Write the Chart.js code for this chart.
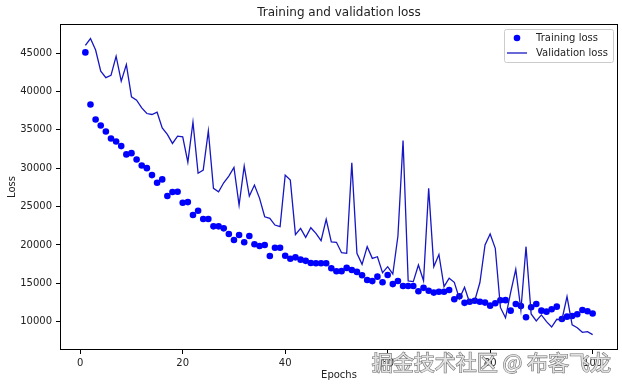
<!DOCTYPE html>
<html>
<head>
<meta charset="utf-8">
<script src="https://cdn.jsdelivr.net/npm/chart.js@4.4.1/dist/chart.umd.min.js"></script>
<style>
  html, body { margin: 0; padding: 0; background: #fff; }
</style>
</head>
<body>
<canvas id="loss" width="622" height="388"></canvas>
<script>
// values, epochs 1..100
const trainingLoss = [
  45100, 38300, 36350, 35570, 34790, 33880, 33490, 32880, 31800, 31960,
  31140, 30360, 30010, 29100, 28100, 28540, 26370, 26890, 26930, 25490,
  25580, 23890, 24450, 23370, 23370, 22420, 22420, 22160, 21420, 20640,
  21290, 20340, 21160, 20080, 19860, 19990, 18550, 19630, 19630, 18590,
  18200, 18380, 18080, 17920, 17650, 17600, 17600, 17600, 16960, 16560,
  16580, 17000, 16730, 16480, 16050, 15430, 15280, 15860, 15130, 16080,
  14890, 15300, 14650, 14650, 14650, 13950, 14400, 14020, 13780, 13900,
  13900, 14130, 12920, 13300, 12450, 12600, 12730, 12600, 12480, 12080,
  12390, 12780, 12800, 11430, 12300, 12040, 10570, 11870, 12300, 11430,
  11300, 11610, 11950, 10350, 10650, 10740, 10960, 11520, 11350, 11050
];
const validationLoss = [
  46000, 46900, 45400, 42640, 41800, 42100, 44600, 41350, 43500, 39300,
  38870, 37860, 37130, 37000, 37300, 35260, 34400, 33230, 34180, 34090,
  30790, 36000, 29350, 29750, 34870, 27370, 26930, 28100, 28970, 30100,
  25190, 30270, 26370, 27800, 26070, 23670, 23460, 22590, 22370, 29100,
  28450, 21350, 22160, 20990, 22240, 21510, 20550, 23330, 20380, 20340,
  18980, 18900, 30700, 18900, 17470, 19770, 18250, 18460, 16380, 17160,
  16210, 21160, 33600, 15300, 15210, 17380, 15340, 27370, 17160, 18750,
  14560, 15650, 15130, 13000, 14480, 12450, 12750, 15100, 19990, 21420,
  19560, 11850, 10500, 13800, 16820, 11520, 19770, 11000, 10100, 10870,
  10000, 9300, 10300, 10220, 13260, 9570, 9200, 8600, 8700, 8300
];
const epochs = trainingLoss.map((_, i) => i + 1);
const xTicks = [0, 20, 40, 60, 80, 100];
const yTicks = [10000, 15000, 20000, 25000, 30000, 35000, 40000, 45000];
const chartTitle = 'Training and validation loss';
const seriesNames = ['Training loss', 'Validation loss'];
const watermark = '掘金技术社区 @ 布客飞龙';

const DOT = '#0000ff';
const LINE = '#1616c4';
const INK = '#222';

Chart.defaults.font.family = '"DejaVu Sans", sans-serif';
Chart.defaults.font.size = 10;
Chart.defaults.color = INK;

// matplotlib-ish frame, title, legend box and the site watermark
const decor = {
  id: 'decor',
  afterDraw(chart) {
    const { ctx, chartArea: a } = chart;
    ctx.save();
    ctx.strokeStyle = '#000';
    ctx.lineWidth = 1;
    ctx.strokeRect(a.left + 0.5, a.top + 0.5, a.width - 1, a.height - 1);

    ctx.fillStyle = INK;
    ctx.font = '12px "DejaVu Sans"';
    ctx.textAlign = 'center';
    ctx.textBaseline = 'middle';
    ctx.fillText(chartTitle, (a.left + a.right) / 2, 13);

    // legend
    const w = 109, h = 33;
    const x1 = a.right - 5 - w, y1 = a.top + 5;
    ctx.beginPath();
    ctx.roundRect(x1 + 0.5, y1 + 0.5, w, h, 2);
    ctx.fillStyle = 'rgba(255,255,255,0.8)';
    ctx.fill();
    ctx.strokeStyle = '#cccccc';
    ctx.stroke();

    ctx.fillStyle = DOT;
    ctx.beginPath();
    ctx.arc(x1 + 13, y1 + 9, 3.3, 0, Math.PI * 2);
    ctx.fill();
    ctx.strokeStyle = LINE;
    ctx.lineWidth = 1.3;
    ctx.beginPath();
    ctx.moveTo(x1 + 3, y1 + 24);
    ctx.lineTo(x1 + 23, y1 + 24);
    ctx.stroke();

    ctx.fillStyle = INK;
    ctx.font = '10px "DejaVu Sans"';
    ctx.textAlign = 'left';
    ctx.fillText(seriesNames[0], x1 + 32, y1 + 9);
    ctx.fillText(seriesNames[1], x1 + 32, y1 + 24);

    // watermark
    ctx.font = '21px "Noto Sans CJK SC"';
    ctx.textAlign = 'right';
    ctx.lineWidth = 1.2;
    ctx.strokeStyle = '#707070';
    ctx.fillStyle = '#e2e2e2';
    ctx.strokeText(watermark, 611, 362);
    ctx.fillText(watermark, 611, 362);
    ctx.restore();
  }
};

new Chart(document.getElementById('loss'), {
  type: 'line',
  data: {
    datasets: [
      {
        label: seriesNames[0],
        data: epochs.map((e, i) => ({ x: e, y: trainingLoss[i] })),
        showLine: false,
        pointRadius: 3.3,
        pointBorderWidth: 0,
        backgroundColor: DOT,
        borderColor: DOT,
        order: 2
      },
      {
        label: seriesNames[1],
        data: epochs.map((e, i) => ({ x: e, y: validationLoss[i] })),
        borderColor: LINE,
        borderWidth: 1.3,
        pointRadius: 0,
        tension: 0,
        fill: false,
        order: 1
      }
    ]
  },
  options: {
    responsive: false,
    animation: false,
    devicePixelRatio: 1,
    layout: { padding: { top: 24, right: 4, left: 0, bottom: 0 } },
    plugins: {
      legend: { display: false },
      title: { display: false },
      tooltip: { enabled: false }
    },
    scales: {
      x: {
        type: 'linear',
        min: -3.95,
        max: 104.95,
        afterBuildTicks: s => { s.ticks = xTicks.map(v => ({ value: v })); },
        afterFit: s => { s.height = 38; },
        ticks: { padding: 3, maxRotation: 0, autoSkip: false, callback: v => String(v) },
        grid: { display: true, drawOnChartArea: false, drawTicks: true, tickLength: 4, color: '#000' },
        border: { display: false },
        title: { display: true, text: 'Epochs', padding: { top: 0, bottom: 7 } }
      },
      y: {
        min: 6300,
        max: 48800,
        afterBuildTicks: s => { s.ticks = yTicks.map(v => ({ value: v })); },
        afterFit: s => { s.width = 60; },
        ticks: { padding: 4, callback: v => String(v) },
        grid: { display: true, drawOnChartArea: false, drawTicks: true, tickLength: 4, color: '#000' },
        border: { display: false },
        title: { display: true, text: 'Loss', padding: { top: 6, bottom: 0 } }
      }
    }
  },
  plugins: [decor]
});
</script>
</body>
</html>
